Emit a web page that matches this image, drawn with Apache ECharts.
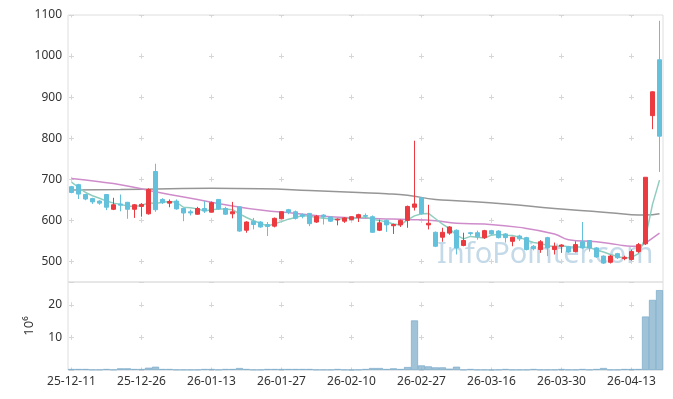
<!DOCTYPE html>
<html>
<head>
<meta charset="utf-8">
<script src="https://cdn.jsdelivr.net/npm/echarts@6/dist/echarts.min.js"></script>
<style>
html,body{margin:0;padding:0;background:#fff;}
#main{width:673px;height:399px;}
</style>
</head>
<body>
<div id="main"></div>
<script>
//일봉 날짜 (거래일)
var dates = ['25-12-11','25-12-12','25-12-15','25-12-16','25-12-17','25-12-18','25-12-19','25-12-22','25-12-23','25-12-24',
    '25-12-26','25-12-29','25-12-30','26-01-02','26-01-05','26-01-06','26-01-07','26-01-08','26-01-09','26-01-12',
    '26-01-13','26-01-14','26-01-15','26-01-16','26-01-19','26-01-20','26-01-21','26-01-22','26-01-23','26-01-26',
    '26-01-27','26-01-28','26-01-29','26-01-30','26-02-02','26-02-03','26-02-04','26-02-05','26-02-06','26-02-09',
    '26-02-10','26-02-11','26-02-12','26-02-13','26-02-19','26-02-20','26-02-23','26-02-24','26-02-25','26-02-26',
    '26-02-27','26-03-03','26-03-04','26-03-05','26-03-06','26-03-09','26-03-10','26-03-11','26-03-12','26-03-13',
    '26-03-16','26-03-17','26-03-18','26-03-19','26-03-20','26-03-23','26-03-24','26-03-25','26-03-26','26-03-27',
    '26-03-30','26-03-31','26-04-01','26-04-02','26-04-03','26-04-06','26-04-07','26-04-08','26-04-09','26-04-10',
    '26-04-13','26-04-14','26-04-15','26-04-16','26-04-17'];

//시가, 종가, 저가, 고가
var opens = [682,687,663,653,647,663,627,640,644,627, 634,616,719,651,642,647,629,621,615,629,
    620,651,629,616,633,576,598,596,590,586, 604,626,621,614,617,596,613,608,601,598,
    602,607,612,609,576,600,587,589,600,632, 655,589,571,559,569,576,539,570,570,558,
    575,574,567,549,562,558,537,529,558,529, 537,536,524,548,551,533,513,498,519,507,
    505,524,543,855,991];
var closes = [668,664,652,645,642,632,638,637,627,638, 639,675,626,643,646,628,618,618,629,623,
    643,628,615,621,574,596,590,584,585,605, 621,620,605,610,592,610,608,598,603,606,
    609,614,610,571,594,589,590,600,634,640, 616,593,537,571,584,533,551,568,560,575,
    567,558,558,559,555,529,531,548,533,537, 540,523,541,533,533,511,496,513,509,510,
    524,541,705,913,805];
var lows = [666,652,649,640,638,625,625,622,604,606, 609,614,621,640,632,626,598,612,614,618,
    619,626,613,605,572,570,578,582,562,583, 603,615,602,605,586,594,590,596,588,594,
    600,596,605,570,574,572,567,584,582,624, 614,578,535,548,565,517,537,563,553,555,
    565,556,546,537,550,527,527,521,513,517, 521,521,522,531,524,509,494,495,506,503,
    502,521,540,822,718];
var highs = [684,689,664,655,649,664,655,663,645,640, 642,678,738,654,651,651,630,626,633,647,
    646,652,633,645,633,598,606,598,596,607, 622,628,624,617,618,613,615,610,605,608,
    610,616,617,612,602,602,592,602,636,794, 657,638,573,582,586,578,570,572,575,577,
    577,576,569,560,565,560,540,552,560,546, 542,538,549,596,552,535,515,516,521,514,
    529,545,705,914,1086];

//거래량 (백만주)
var volumes = [0.3,0.3,0.3,0.1,0.1,0.3,0.1,0.5,0.5,0.3, 0.3,0.7,1.0,0.3,0.3,0.1,0.1,0.1,0.1,0.3,
    0.3,0.1,0.3,0.3,0.6,0.3,0.1,0.1,0.3,0.3, 0.3,0.3,0.3,0.3,0.3,0.1,0.1,0.1,0.3,0.1,
    0.1,0.1,0.3,0.6,0.6,0.3,0.5,0.3,0.9,15.2, 1.4,1.1,0.8,0.8,0.4,1.0,0.1,0.3,0.1,0.1,
    0.1,0.1,0.3,0.1,0.1,0.1,0.3,0.1,0.1,0.1, 0.3,0.1,0.1,0.3,0.1,0.3,0.6,0.1,0.1,0.3,
    0.3,0.3,16.4,21.5,24.5];

//이동평균선 (그림에서 읽은 값, null 은 이어서 그림)
var ma5 = [693,680,668,660,654,647,642,639,635,634, 636,643,641,644,646,644,632,631,628,623,
    626,628,628,626,616,607,599,593,586,592, 597,603,607,612,610,607,605,604,602,605,
    605,606,608,602,600,596,591,589,601,611, 616,617,604,591,580,564,555,561,559,557,
    564,566,564,563,559,552,546,544,539,536, 538,536,535,535,534,528,523,517,512,508,
    510,519,558,639,698];
var ma20 = [702,null,null,null,694,null,null,687,null,null, null,673,null,null,663,null,null,null,651,null,
    null,null,638,null,null,null,null,625,null,null, null,null,617,null,null,null,610,null,null,null,
    null,606,null,null,604,null,null,null,602,null, null,null,599,null,null,593,null,null,null,591,
    null,null,null,null,583,null,null,null,null,567, null,553,null,null,null,548,null,null,541,null,
    537,537,545,557,569];
var ma60 = [674,null,null,null,null,null,null,675,null,null, null,null,null,null,677,null,null,null,null,null,
    678,null,null,null,null,null,null,677,null,null, null,null,null,null,673,null,null,null,null,null,
    null,668,null,null,null,665,null,null,661,null, null,null,651,null,null,648,null,null,null,null,
    null,null,640,null,null,null,null,null,null,629, null,null,null,null,null,null,620,null,null,null,
    614,null,613,null,616];

var priceMin = 450, priceMax = 1100;
var volMax = 27;

function build_ohlc(){
    var res = [];
    for(var i = 0; i < dates.length; i++){
        res.push([opens[i], closes[i], lows[i], highs[i]]);
    }
    return res;
}

// 격자 교차점의 + 표시를 점선으로 흉내냄
var plusColor = '#d6d6d6';
var labelFont = 'Noto Sans';

var option = {
    animation: false,
    backgroundColor: '#fff',
    grid: [
        {left: 68, right: 10, top: 15, height: 267, show: true, borderColor: '#dedede', borderWidth: 1},
        {left: 68, right: 10, top: 282, height: 88, show: true, borderColor: '#dedede', borderWidth: 1}
    ],
    xAxis: [
        {
            type: 'category', gridIndex: 0, data: dates,
            axisLine: {show: false}, axisTick: {show: false}, axisLabel: {show: false},
            splitLine: {show: true, interval: 9, alignWithLabel: true,
                lineStyle: {color: plusColor, width: 1, type: [5, 36.08], dashOffset: 2.5}}
        },
        {
            type: 'category', gridIndex: 1, data: dates,
            axisLine: {show: false}, axisTick: {show: false},
            axisLabel: {interval: 9, color: '#333', fontSize: 12, fontFamily: labelFont, margin: 6},
            splitLine: {show: true, interval: 9, alignWithLabel: true,
                lineStyle: {color: plusColor, width: 1, type: [5, 27.59], dashOffset: 12.3}}
        }
    ],
    yAxis: [
        {
            type: 'value', gridIndex: 0, scale: true, min: priceMin, max: priceMax,
            minInterval: 100, maxInterval: 100,
            axisLine: {show: false}, axisTick: {show: false},
            axisLabel: {showMinLabel: false, color: '#333', fontSize: 12, fontFamily: labelFont, margin: 6,
                formatter: function(v){ return String(v); }},
            splitLine: {show: true, lineStyle: {color: plusColor, width: 1, type: [5, 65], dashOffset: 69}}
        },
        {
            type: 'value', gridIndex: 1, min: 0, max: volMax,
            minInterval: 10, maxInterval: 10,
            name: '10\u2076', nameLocation: 'middle', nameRotate: 90, nameGap: 32,
            nameTextStyle: {color: '#333', fontSize: 13, fontFamily: labelFont},
            axisLine: {show: false}, axisTick: {show: false},
            axisLabel: {showMinLabel: false, showMaxLabel: false, color: '#333', fontSize: 12, fontFamily: labelFont, margin: 6},
            splitLine: {show: true, lineStyle: {color: plusColor, width: 1, type: [5, 65], dashOffset: 69}}
        }
    ],
    graphic: [
        {type: 'text', left: 437, top: 240, z: 0, silent: true,
            style: {text: 'InfoPointer.com', font: '29px "Noto Sans"', fill: 'rgba(160,195,218,0.62)'}}
    ],
    series: [
        {
            name: 'MA60', type: 'line', xAxisIndex: 0, yAxisIndex: 0, data: ma60,
            smooth: true, connectNulls: true, showSymbol: false, z: 1,
            lineStyle: {color: '#969696', width: 1.5}
        },
        {
            name: 'MA20', type: 'line', xAxisIndex: 0, yAxisIndex: 0, data: ma20,
            smooth: true, connectNulls: true, showSymbol: false, z: 1,
            lineStyle: {color: '#cf8ccb', width: 1.5}
        },
        {
            name: 'MA5', type: 'line', xAxisIndex: 0, yAxisIndex: 0, data: ma5,
            showSymbol: false, z: 1,
            lineStyle: {color: '#8fcdbf', width: 1.5}
        },
        {
            name: 'price', type: 'candlestick', xAxisIndex: 0, yAxisIndex: 0, data: build_ohlc(),
            barWidth: 5, z: 3,
            itemStyle: {color: '#eb3a40', color0: '#63c1dc', borderColor: '#eb3a40', borderColor0: '#63c1dc', borderWidth: 1}
        },
        {
            name: 'volume', type: 'bar', xAxisIndex: 1, yAxisIndex: 1, data: volumes,
            barCategoryGap: '0%',
            itemStyle: {color: 'rgba(120,170,200,0.7)', borderColor: '#6fa3c6', borderWidth: 0.6}
        }
    ]
};

chart = echarts.init(document.getElementById('main'));
chart.setOption(option);
</script>
</body>
</html>
